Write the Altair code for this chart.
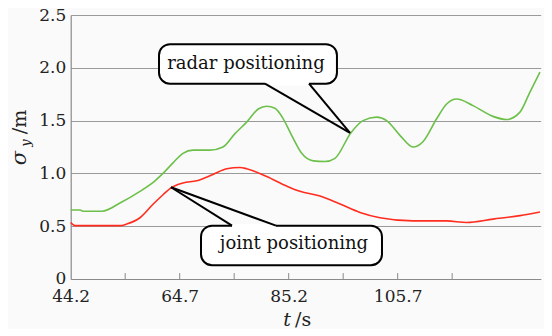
import altair as alt
import pandas as pd

# ---- data ----
green_t = [44.2, 46.0, 46.5, 50.09, 53.47, 57.23, 60.05, 61.56, 63.44, 65.32, 67.20, 70.40,
           72.84, 75.10, 77.30, 79.48, 81.06, 82.62, 84.18, 85.76, 87.64, 89.83, 92.03,
           93.91, 96.92, 99.18, 101.75, 103.63, 106.13, 108.58, 110.46, 113.03, 114.91,
           116.79, 119.86, 123.62, 126.20, 128.70, 130.58, 132.46]
green_s = [0.654, 0.654, 0.642, 0.642, 0.72, 0.83, 0.93, 1.0, 1.10, 1.19, 1.22, 1.22,
           1.25, 1.377, 1.486, 1.61, 1.636, 1.617, 1.517, 1.36, 1.19, 1.119, 1.112,
           1.143, 1.386, 1.50, 1.533, 1.50, 1.36, 1.25, 1.30, 1.517, 1.657,
           1.704, 1.642, 1.54, 1.51, 1.58, 1.77, 1.96]

red_t = [44.2, 45.01, 47.83, 53.47, 54.73, 57.23, 59.73, 61.62, 63.06, 65.32, 67.90,
         70.96, 73.54, 76.04, 77.30, 81.06, 84.82, 87.32, 91.09, 94.85, 98.61, 102.37,
         108.58, 114.91, 118.67, 123.62, 128.70, 132.46]
red_s = [0.535, 0.505, 0.505, 0.505, 0.52, 0.58, 0.71, 0.80, 0.863, 0.91, 0.93,
         0.99, 1.044, 1.056, 1.044, 0.97, 0.88, 0.83, 0.785, 0.71, 0.63, 0.58,
         0.55, 0.55, 0.535, 0.567, 0.60, 0.635]

x_tick_values = [44.2, 54.45, 64.7, 74.95, 85.2, 95.45, 105.7, 115.95]
x_labels = ["44.2", "64.7", "85.2", "105.7"]
y_tick_values = [0, 0.5, 1.0, 1.5, 2.0, 2.5]

# callouts (data units)
callout_text = ["radar positioning", "joint positioning"]
callout_tx = [77.17, 86.2]
callout_ty = [2.037, 0.327]
box_t1 = [60.81, 68.71]
box_t2 = [94.28, 102.75]
box_s1 = [1.850, 0.131]
box_s2 = [2.224, 0.505]
base_t1 = [80.74, 74.54]
base_t2 = [89.02, 82.81]
base_s = [1.850, 0.505]
tip_t = [96.73, 63.06]
tip_s = [1.383, 0.869]

FONT = "DejaVu Serif"
GREEN = "#6cc04a"
RED = "#ff2d1f"

xs = alt.Scale(domain=[44.2, 132.6], nice=False, zero=False)
ys = alt.Scale(domain=[0, 2.5], nice=False, zero=False)

lines_df = pd.DataFrame({
    "t": green_t + red_t,
    "s": green_s + red_s,
    "series": ["radar"] * len(green_t) + ["joint"] * len(red_t),
})

label_list = "[" + ",".join("'%s'" % l for l in x_labels) + "]"

lines = alt.Chart(lines_df).mark_line(strokeWidth=1.6, interpolate="monotone").encode(
    x=alt.X("t:Q", scale=xs, axis=alt.Axis(
        values=x_tick_values, format=".2f",
        labelExpr="indexof(%s, format(datum.value, '.1f')) >= 0 ? format(datum.value, '.1f') : ''" % label_list,
        grid=False, tickSize=0, domainColor="#8a8a8a", domainWidth=1.2,
        labelFont=FONT, labelFontSize=17, labelColor="#222", labelPadding=10,
        labelFlush=False, labelOverlap=False, title=None)),
    y=alt.Y("s:Q", scale=ys, axis=alt.Axis(
        values=y_tick_values,
        labelExpr="datum.value == 0 ? '0' : format(datum.value, '.1f')",
        grid=True, gridColor="#9a9a9a", gridWidth=1.2, tickSize=0,
        domainColor="#8a8a8a", domainWidth=1.2,
        labelFont=FONT, labelFontSize=17, labelColor="#222", labelPadding=5,
        title=None)),
    color=alt.Color("series:N", scale=alt.Scale(domain=["radar", "joint"], range=[GREEN, RED]),
                    legend=None),
    detail="series:N",
)

ticks_df = pd.DataFrame({"t": x_tick_values[1:]})
ticks = alt.Chart(ticks_df).mark_rule(color="#8a8a8a", strokeWidth=1).encode(
    x=alt.X("t:Q", scale=xs),
    y=alt.Y("y0:Q", scale=ys),
    y2="y1:Q",
).transform_calculate(y0="0", y1="0.056")

box_df = pd.DataFrame({"t1": box_t1, "t2": box_t2, "s1": box_s1, "s2": box_s2})
boxes = alt.Chart(box_df).mark_rect(fill="white", stroke="black", strokeWidth=2,
                                    cornerRadius=11).encode(
    x=alt.X("t1:Q", scale=xs), x2="t2:Q",
    y=alt.Y("s1:Q", scale=ys), y2="s2:Q",
)

erase_df = pd.DataFrame({"t1": base_t1, "t2": base_t2, "s": base_s})
erase = alt.Chart(erase_df).mark_rule(color="white", strokeWidth=3.5).encode(
    x=alt.X("t1:Q", scale=xs), x2="t2:Q",
    y=alt.Y("s:Q", scale=ys),
)

ptr_df = pd.DataFrame({
    "ta": base_t1 + base_t2,
    "sa": base_s + base_s,
    "tb": tip_t + tip_t,
    "sb": tip_s + tip_s,
})
pointers = alt.Chart(ptr_df).mark_rule(color="black", strokeWidth=2).encode(
    x=alt.X("ta:Q", scale=xs), x2="tb:Q",
    y=alt.Y("sa:Q", scale=ys), y2="sb:Q",
)

txt_df = pd.DataFrame({"label": callout_text, "t": callout_tx, "s": callout_ty})
texts = alt.Chart(txt_df).mark_text(font=FONT, fontSize=18, color="#111",
                                    baseline="middle", align="center").encode(
    x=alt.X("t:Q", scale=xs), y=alt.Y("s:Q", scale=ys), text="label:N",
)

# axis titles as text (italic variable names)
title_df = pd.DataFrame({"a": [0]})
ox, oy = 70.7, 15.0


def tmark(text, x, y, size, italic=False, angle=0, align="center", baseline="alphabetic"):
    kw = dict(text=text, font=FONT, fontSize=size, color="#222", align=align, baseline=baseline)
    if italic:
        kw["fontStyle"] = "italic"
    if angle:
        kw["angle"] = angle
    return alt.Chart(title_df).mark_text(**kw).encode(x=alt.value(x - ox), y=alt.value(y - oy))


t_title = tmark("t", 291, 326, 19, italic=True, align="right")
s_title = tmark("/s", 295, 326, 19, align="left")
sig = tmark("σ", 26, 158, 21, italic=True, angle=270)
sub = tmark("y", 30, 143, 13, italic=True, angle=270)
m_title = tmark("/m", 26, 122, 19, angle=270)

chart = alt.layer(lines, ticks, boxes, erase, pointers, texts,
                  t_title, s_title, sig, sub, m_title).properties(
    width=470, height=264,
    padding={"left": 62.7, "top": 7, "right": 3, "bottom": 50},
    autosize=alt.AutoSizeParams(type="none"),
    background="#fafafa",
).configure_view(stroke=None)

chart.save("out.html", embed_options={"renderer": "svg", "actions": False})
